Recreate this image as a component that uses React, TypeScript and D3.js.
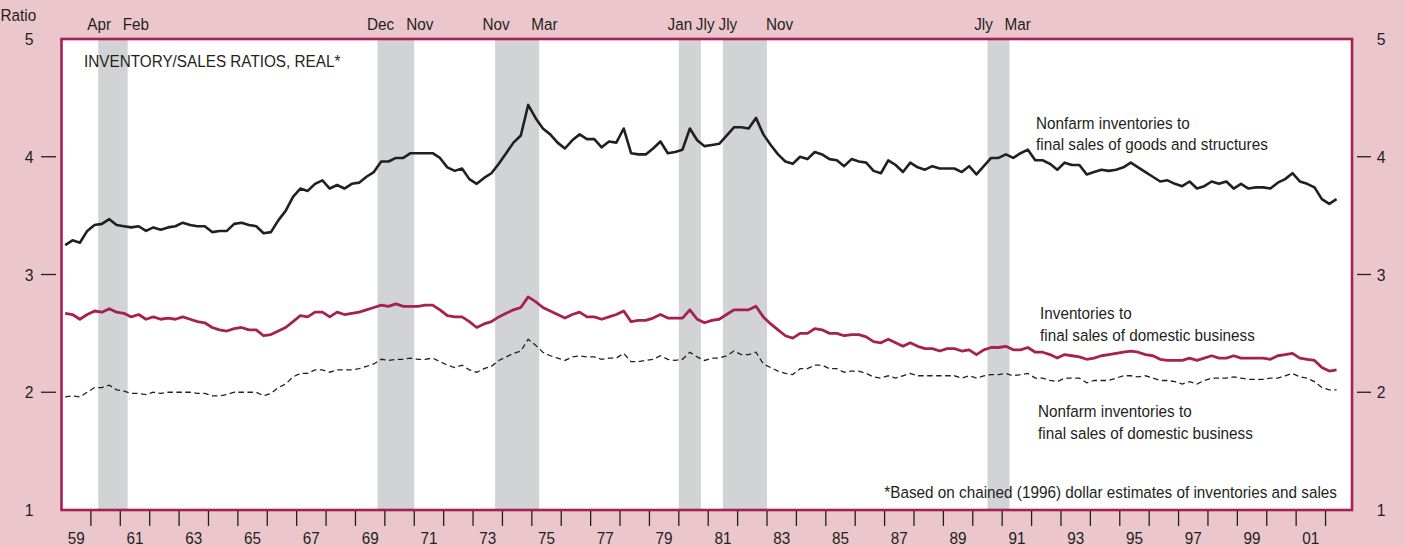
import React from "react";
import * as d3 from "d3";

// Quarterly data, 1959Q1 .. 2002Q2
const startYear = 1959;
const goodsStructures = [
  3.25, 3.29, 3.27, 3.37, 3.42, 3.43, 3.47, 3.42, 3.41, 3.40, 3.41, 3.37, 3.40, 3.38, 3.40, 3.41, 3.44, 3.42, 3.41, 3.41, 3.36, 3.37, 3.37, 3.43, 3.44, 3.42, 3.41, 3.35, 3.36, 3.46, 3.54, 3.66, 3.73, 3.71, 3.77, 3.80,
  3.73, 3.76, 3.73, 3.77, 3.78, 3.83, 3.87, 3.96, 3.96, 3.99, 3.99, 4.03, 4.03, 4.03, 4.03, 3.99, 3.91, 3.88, 3.90, 3.81, 3.77, 3.82, 3.86, 3.94, 4.03, 4.12, 4.18, 4.44, 4.33, 4.24, 4.19, 4.12, 4.07, 4.14, 4.19, 4.15,
  4.15, 4.08, 4.13, 4.12, 4.24, 4.03, 4.02, 4.02, 4.07, 4.13, 4.03, 4.04, 4.06, 4.24, 4.14, 4.09, 4.10, 4.11, 4.18, 4.25, 4.25, 4.24, 4.33, 4.19, 4.10, 4.02, 3.96, 3.94, 4.00, 3.98, 4.04, 4.02, 3.98, 3.97, 3.92, 3.98,
  3.96, 3.95, 3.88, 3.86, 3.97, 3.93, 3.87, 3.95, 3.91, 3.89, 3.92, 3.90, 3.90, 3.90, 3.87, 3.92, 3.85, 3.92, 3.99, 3.99, 4.02, 3.99, 4.03, 4.06, 3.97, 3.97, 3.94, 3.89, 3.95, 3.93, 3.93, 3.85, 3.87, 3.89, 3.88, 3.89,
  3.91, 3.95, 3.91, 3.87, 3.83, 3.79, 3.80, 3.77, 3.75, 3.79, 3.73, 3.75, 3.79, 3.77, 3.79, 3.73, 3.77, 3.73, 3.74, 3.74, 3.73, 3.78, 3.81, 3.86, 3.79, 3.77, 3.74, 3.64, 3.60, 3.64,
];
const domesticBusiness = [
  2.67, 2.66, 2.62, 2.66, 2.69, 2.68, 2.71, 2.68, 2.67, 2.64, 2.66, 2.62, 2.64, 2.62, 2.63, 2.62, 2.64, 2.62, 2.60, 2.59, 2.55, 2.53, 2.52, 2.54, 2.55, 2.53, 2.53, 2.48, 2.49, 2.52, 2.55, 2.60, 2.65, 2.64, 2.68, 2.68,
  2.64, 2.68, 2.66, 2.67, 2.68, 2.70, 2.72, 2.74, 2.73, 2.75, 2.73, 2.73, 2.73, 2.74, 2.74, 2.70, 2.65, 2.64, 2.64, 2.60, 2.55, 2.58, 2.60, 2.64, 2.67, 2.70, 2.72, 2.81, 2.77, 2.72, 2.69, 2.66, 2.63, 2.66, 2.68, 2.64,
  2.64, 2.62, 2.64, 2.66, 2.69, 2.60, 2.61, 2.61, 2.63, 2.66, 2.63, 2.63, 2.63, 2.70, 2.62, 2.59, 2.61, 2.62, 2.66, 2.70, 2.70, 2.70, 2.73, 2.64, 2.58, 2.53, 2.48, 2.46, 2.50, 2.50, 2.54, 2.53, 2.50, 2.50, 2.48, 2.49,
  2.49, 2.47, 2.43, 2.42, 2.45, 2.42, 2.39, 2.42, 2.39, 2.37, 2.37, 2.35, 2.37, 2.37, 2.35, 2.36, 2.32, 2.36, 2.38, 2.38, 2.39, 2.36, 2.36, 2.38, 2.34, 2.34, 2.32, 2.29, 2.32, 2.31, 2.30, 2.28, 2.29, 2.31, 2.32, 2.33,
  2.34, 2.35, 2.34, 2.32, 2.31, 2.28, 2.27, 2.27, 2.27, 2.29, 2.27, 2.29, 2.31, 2.29, 2.29, 2.31, 2.29, 2.29, 2.29, 2.29, 2.28, 2.31, 2.32, 2.33, 2.29, 2.28, 2.27, 2.21, 2.18, 2.19,
];
const nonfarmDomestic = [
  1.96, 1.97, 1.96, 2.00, 2.04, 2.04, 2.06, 2.02, 2.01, 1.99, 1.99, 1.98, 2.00, 1.99, 2.00, 2.00, 2.00, 2.00, 1.99, 1.99, 1.97, 1.97, 1.98, 2.00, 2.00, 2.00, 2.00, 1.97, 1.99, 2.04, 2.07, 2.13, 2.16, 2.16, 2.19, 2.19,
  2.17, 2.19, 2.19, 2.19, 2.20, 2.22, 2.24, 2.28, 2.27, 2.28, 2.28, 2.29, 2.28, 2.28, 2.29, 2.26, 2.23, 2.21, 2.23, 2.19, 2.17, 2.20, 2.22, 2.27, 2.30, 2.33, 2.35, 2.45, 2.40, 2.34, 2.31, 2.29, 2.27, 2.30, 2.31, 2.30,
  2.30, 2.28, 2.29, 2.29, 2.33, 2.26, 2.26, 2.27, 2.28, 2.31, 2.28, 2.27, 2.28, 2.34, 2.30, 2.27, 2.29, 2.29, 2.31, 2.35, 2.32, 2.32, 2.34, 2.24, 2.21, 2.18, 2.16, 2.15, 2.20, 2.20, 2.23, 2.23, 2.20, 2.20, 2.17, 2.18,
  2.18, 2.16, 2.13, 2.12, 2.14, 2.12, 2.14, 2.16, 2.14, 2.14, 2.14, 2.14, 2.14, 2.14, 2.12, 2.14, 2.12, 2.14, 2.15, 2.15, 2.16, 2.14, 2.15, 2.16, 2.12, 2.12, 2.10, 2.09, 2.12, 2.12, 2.12, 2.08, 2.10, 2.10, 2.10, 2.12,
  2.14, 2.14, 2.13, 2.14, 2.12, 2.10, 2.10, 2.09, 2.07, 2.09, 2.07, 2.10, 2.12, 2.12, 2.12, 2.13, 2.12, 2.11, 2.11, 2.11, 2.12, 2.12, 2.14, 2.16, 2.13, 2.12, 2.09, 2.04, 2.02, 2.02,
];

const recessionStart = [1960.25, 1969.75, 1973.75, 1980.0, 1981.5, 1990.5];
const recessionEnd = [1961.25, 1971.0, 1975.25, 1980.75, 1983.0, 1991.25];
const peakLabels = ["Apr", "Dec", "Nov", "Jan", "Jly", "Jly"];
const troughLabels = ["Feb", "Nov", "Mar", "Jly", "Nov", "Mar"];

const yTicks = [1, 2, 3, 4, 5];
const yearTicks = d3.range(1960, 2003);
const yearLabels = ["59", "61", "63", "65", "67", "69", "71", "73", "75", "77", "79", "81", "83", "85", "87", "89", "91", "93", "95", "97", "99", "01"];
const yearLabelYears = d3.range(1959, 2002, 2);

// layout (label nudges to avoid collisions, as in the original)
const peakNudge = [0, 2, 0, 0, 4, -5];
const troughNudge = [0, -3, -3, 0, 4, 0];

const W = 1404;
const H = 546;
const FONT = "'Liberation Sans', Arial, Helvetica, sans-serif";
const BG = "#ebc7cd";
const CRIMSON = "#a6214f";
const INK = "#231f20";
const BAND = "#d1d3d5";
const FS = 16.5;
const SX = 0.927;

const x = d3.scaleLinear().domain([1959, 2002.9]).range([61.5, 1352]);
const y = d3.scaleLinear().domain([1, 5]).range([510, 39]);

const tq = (i: number) => startYear + (i + 0.5) / 4;

const lineGen = d3
  .line<number>()
  .x((_, i) => x(tq(i)))
  .y((v) => y(v));

function T({ x: tx, y: ty, anchor = "start", size = FS, dy, children }: any) {
  return (
    <text
      transform={`translate(${tx},${ty}) scale(${SX},1)`}
      textAnchor={anchor}
      fontSize={size}
      dy={dy}
      fill={INK}
    >
      {children}
    </text>
  );
}

export default function App() {
  const left = x.range()[0];
  const right = x.range()[1];
  const top = y.range()[1];
  const bottom = y.range()[0];
  return (
    <svg
      width={W}
      height={H}
      style={{ position: "absolute", left: 0, top: 0, display: "block" }}
      fontFamily={FONT}
    >
      <rect x={0} y={0} width={W} height={H} fill={BG} />
      <rect x={left} y={top} width={right - left} height={bottom - top} fill="#fff" />
      {recessionStart.map((s, i) => (
        <rect key={"b" + i} x={x(s)} y={top} width={x(recessionEnd[i]) - x(s)} height={bottom - top} fill={BAND} />
      ))}
      {recessionStart.map((s, i) => (
        <g key={"rl" + i}>
          <T x={x(s) + 1 + peakNudge[i]} y={29.5} anchor="middle">{peakLabels[i]}</T>
          <T x={x(recessionEnd[i]) - 5 + troughNudge[i]} y={29.5}>{troughLabels[i]}</T>
        </g>
      ))}

      <path d={lineGen(nonfarmDomestic) || ""} fill="none" stroke={INK} strokeWidth={1.3} strokeDasharray="5.5,3.5" />
      <path d={lineGen(domesticBusiness) || ""} fill="none" stroke={CRIMSON} strokeWidth={2.8} strokeLinejoin="round" />
      <path d={lineGen(goodsStructures) || ""} fill="none" stroke={INK} strokeWidth={2.6} strokeLinejoin="round" />

      <rect x={left} y={top} width={right - left} height={bottom - top} fill="none" stroke={CRIMSON} strokeWidth={2.6} />

      {yTicks.map((t) => (
        <g key={"yt" + t}>
          {t > 1 && t < 5 && (
            <>
              <line x1={41} x2={56} y1={y(t)} y2={y(t)} stroke={INK} strokeWidth={1.3} />
              <line x1={1357} x2={1371} y1={y(t)} y2={y(t)} stroke={INK} strokeWidth={1.3} />
            </>
          )}
          <T x={29} y={y(t)} dy="0.36em" anchor="middle" size={17}>{t}</T>
          <T x={1381} y={y(t)} dy="0.36em" anchor="middle" size={17}>{t}</T>
        </g>
      ))}
      <T x={0.5} y={20.5}>Ratio</T>

      {yearTicks.map((yr) => (
        <line key={"xt" + yr} x1={x(yr)} x2={x(yr)} y1={bottom + 1} y2={526} stroke={INK} strokeWidth={1.3} />
      ))}
      {yearLabels.map((lab, i) => (
        <T key={"xl" + lab} x={x(yearLabelYears[i] + 0.5)} y={544} anchor="middle">{lab}</T>
      ))}

      <T x={84} y={67}>INVENTORY/SALES RATIOS, REAL*</T>

      <T x={1036} y={128.5}>Nonfarm inventories to</T>
      <T x={1036} y={150}>final sales of goods and structures</T>
      <T x={1040} y={318.5}>Inventories to</T>
      <T x={1040} y={340.5}>final sales of domestic business</T>
      <T x={1038} y={416.5}>Nonfarm inventories to</T>
      <T x={1038} y={439}>final sales of domestic business</T>
      <T x={1337} y={497.5} anchor="end">*Based on chained (1996) dollar estimates of inventories and sales</T>
    </svg>
  );
}
